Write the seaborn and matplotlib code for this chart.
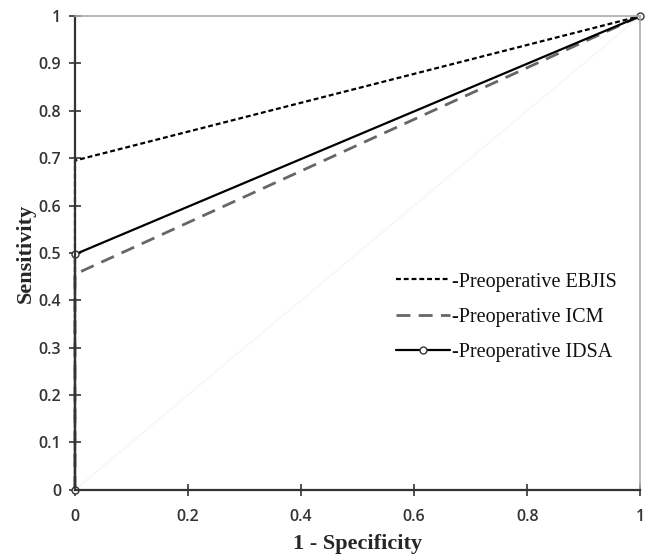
import numpy as np
import pandas as pd
import matplotlib
matplotlib.use("Agg")
import matplotlib.pyplot as plt
import seaborn as sns

# ROC points
fpr = [0, 0, 1]
tpr_ebjis = [0, 0.695, 1]
tpr_icm = [0, 0.455, 1]
tpr_idsa = [0, 0.497, 1]
ref_x = [0, 1]
ref_y = [0, 1]
ticks = [0, 0.2, 0.4, 0.6, 0.8, 1]
yticks = [0, 0.1, 0.2, 0.3, 0.4, 0.5, 0.6, 0.7, 0.8, 0.9, 1]

sns.set_style("white")

fig = plt.figure(figsize=(6.52, 5.54), dpi=100)
ax = fig.add_axes([0.115, 0.116, 0.867, 0.855])

# faint chance diagonal
sns.lineplot(x=ref_x, y=ref_y, ax=ax, color="#f6f6f6", linewidth=1,
             sort=False, estimator=None)

sns.lineplot(x=fpr, y=tpr_ebjis, ax=ax, sort=False, estimator=None, color="black",
             linewidth=1.6, linestyle=(0, (2.2, 1.3)), label="-Preoperative EBJIS")
sns.lineplot(x=fpr, y=tpr_icm, ax=ax, sort=False, estimator=None, color="#666666",
             linewidth=2, linestyle=(0, (5, 3)), label="-Preoperative ICM")
sns.lineplot(x=fpr, y=tpr_idsa, ax=ax, sort=False, estimator=None, color="black",
             linewidth=1.6, marker="o", markersize=5, markerfacecolor="white",
             markeredgecolor="#333333", markeredgewidth=1,
             label="-Preoperative IDSA")
for ln in ax.get_lines():
    ln.set_clip_on(False)

ax.set_xlim(0, 1)
ax.set_ylim(0, 1)
ax.set_xticks(ticks)
ax.set_xticklabels(["0", "0.2", "0.4", "0.6", "0.8", "1"])
ax.set_yticks(yticks)
ax.set_yticklabels(["0", "0.1", "0.2", "0.3", "0.4", "0.5", "0.6", "0.7", "0.8", "0.9", "1"])

for side in ["left", "bottom"]:
    ax.spines[side].set_color("#333333")
    ax.spines[side].set_linewidth(1.6)
for side in ["top", "right"]:
    ax.spines[side].set_visible(True)
    ax.spines[side].set_color("#aaaaaa")
    ax.spines[side].set_linewidth(1.2)

ax.tick_params(axis="both", direction="inout", length=8, width=1.2,
               color="#333333", labelsize=11.5, labelcolor="#333333",
               left=True, bottom=True)
ax.tick_params(axis="x", pad=10)
ax.tick_params(axis="y", pad=6)
for lbl in ax.get_xticklabels() + ax.get_yticklabels():
    lbl.set_family("Open Sans")
    lbl.set_fontweight("semibold")

ax.set_xlabel("1 - Specificity", family="Liberation Serif", fontweight="bold",
              fontsize=16, labelpad=6)
ax.set_ylabel("Sensitivity", family="Liberation Serif", fontweight="bold",
              fontsize=16, labelpad=2)

leg = ax.legend(loc="upper left", bbox_to_anchor=(0.535, 0.497), frameon=False,
                prop={"family": "Liberation Serif", "size": 14.5},
                handlelength=2.7, handletextpad=0.1, labelspacing=0.8)
for t in leg.get_texts():
    t.set_color("#111111")

fig.savefig("out.png", dpi=100)
